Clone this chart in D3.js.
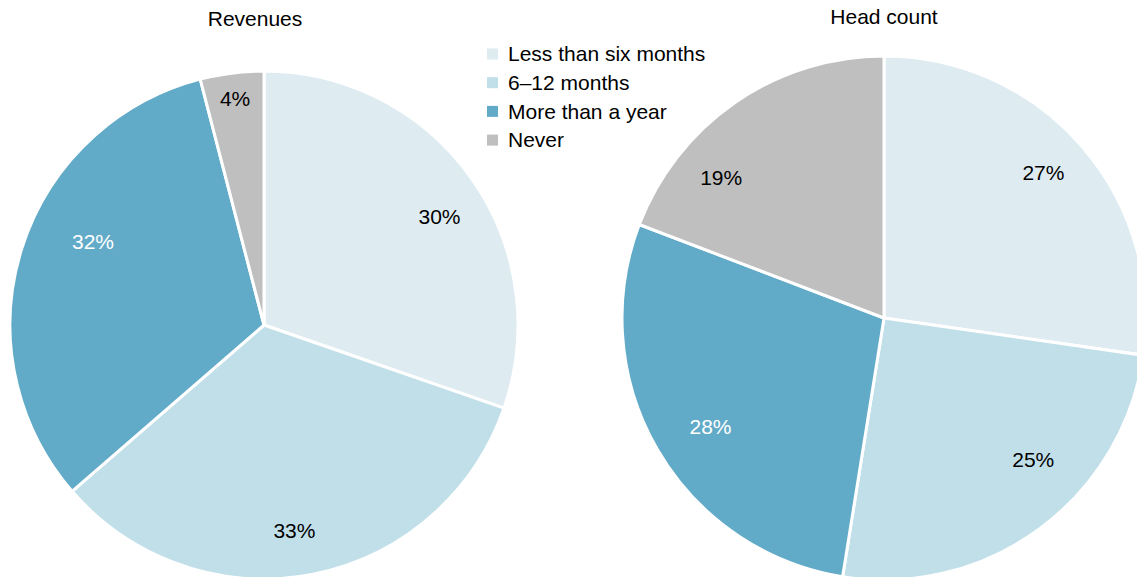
<!DOCTYPE html>
<html>
<head>
<meta charset="utf-8">
<script src="https://cdn.jsdelivr.net/npm/d3@7"></script>
<style>
  html, body { margin: 0; padding: 0; background: #fff; }
  svg text { font-family: "Liberation Sans", Arial, sans-serif; }
</style>
</head>
<body>
<svg id="chart" width="1137" height="577"></svg>
<script>
// Time to payback, share of respondents
const categories = ["Less than six months", "6–12 months", "More than a year", "Never"];
const revenues = [30, 33, 32, 4];
const headCount = [27, 25, 28, 19];
const colors = ["#deecf2", "#c0dfe9", "#62abc8", "#bfbfbf"];
const labelColors = ["#000", "#000", "#fff", "#000"];

// Label placement: fraction of radius, plus a small per-slice nudge in px
const revenueNudge = [[10, 10], [-8, 6], [23, -23], [0, 0]];
const headNudge = [[1, -8], [25, -27], [8, 4], [-44, 32]];

const svg = d3.select("#chart");
const pie = d3.pie().sort(null).value(d => d);
const FONT = 21;

function drawPie(values, nudge, title, cx, cy, r, titleX, titleY) {
  const g = svg.append("g").attr("transform", `translate(${cx},${cy})`);
  const arc = d3.arc().innerRadius(0).outerRadius(r);
  const labelArc = d3.arc().innerRadius(r * 0.8).outerRadius(r * 0.8);
  const arcs = pie(values);

  g.selectAll("path.slice")
    .data(arcs)
    .join("path")
    .attr("class", "slice")
    .attr("d", arc)
    .attr("fill", (d, i) => colors[i])
    .attr("stroke", "#fff")
    .attr("stroke-width", 3)
    .attr("stroke-linejoin", "round");

  g.selectAll("text.val")
    .data(arcs)
    .join("text")
    .attr("class", "val")
    .attr("transform", (d, i) => {
      // small slices get their label pushed a little further out
      const k = (d.endAngle - d.startAngle) < 0.4 ? 0.9 / 0.8 : 1;
      const [x, y] = labelArc.centroid(d);
      return `translate(${x * k + nudge[i][0]},${y * k + nudge[i][1]})`;
    })
    .attr("text-anchor", "middle")
    .attr("dy", "0.35em")
    .attr("font-size", FONT)
    .attr("fill", (d, i) => labelColors[i])
    .text(d => d.data + "%");

  svg.append("text")
    .attr("x", titleX)
    .attr("y", titleY)
    .attr("text-anchor", "middle")
    .attr("font-size", FONT)
    .attr("fill", "#000")
    .text(title);
}

drawPie(revenues, revenueNudge, "Revenues", 264, 325, 254, 255, 26);
drawPie(headCount, headNudge, "Head count", 884, 318, 262, 884, 24);

// Legend
const legend = svg.append("g").attr("transform", "translate(487,54)");
const rows = legend.selectAll("g")
  .data(categories)
  .join("g")
  .attr("transform", (d, i) => `translate(0,${i * 28.7})`);
rows.append("rect")
  .attr("x", 0).attr("y", -5.5)
  .attr("width", 11).attr("height", 11)
  .attr("fill", (d, i) => colors[i]);
rows.append("text")
  .attr("x", 21)
  .attr("dy", "0.35em")
  .attr("font-size", FONT)
  .attr("fill", "#000")
  .text(d => d);
</script>
</body>
</html>
